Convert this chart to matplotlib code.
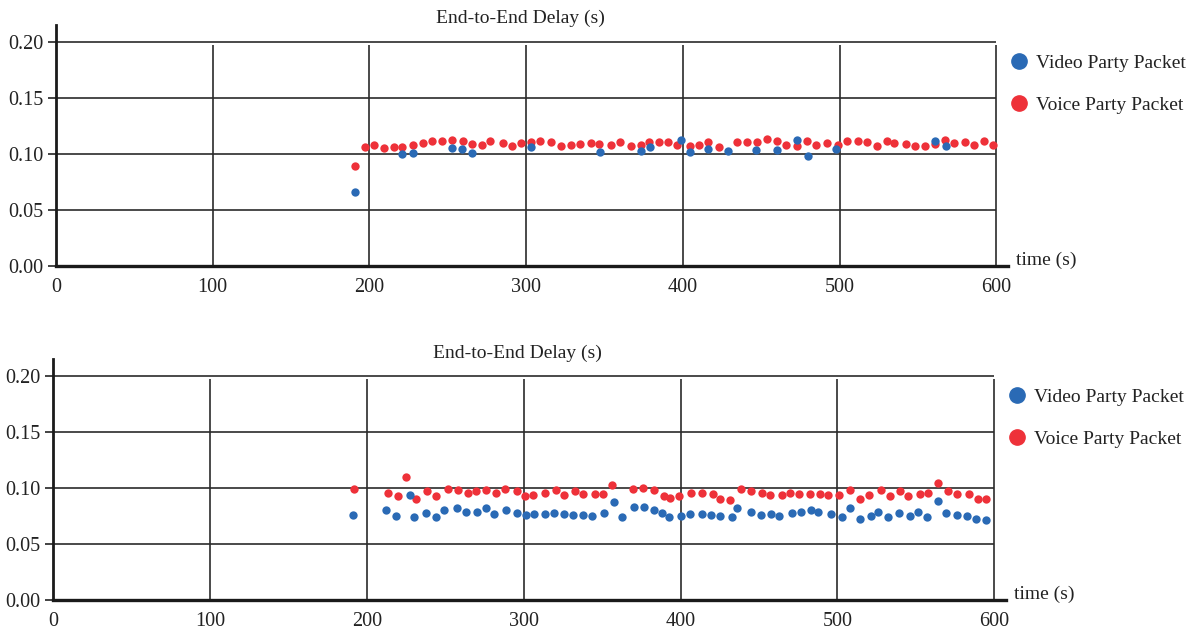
import matplotlib
matplotlib.use("Agg")
import matplotlib.pyplot as plt
from matplotlib.lines import Line2D

plt.rcParams["font.family"] = ["Liberation Serif", "DejaVu Serif"]

BLUE = "#2a6ab5"
RED = "#ee3139"
GRID = "#2b2b2b"

# top panel
top_video_t = [191, 221, 228, 253, 259, 265.5, 303, 347, 373, 379, 398.6,
               404.6, 416, 429, 447, 460, 473, 479.7, 498, 561, 568]
top_video_d = [0.066, 0.100, 0.101, 0.105, 0.104, 0.101, 0.1065, 0.102,
               0.103, 0.1065, 0.1125, 0.1015, 0.1045, 0.1027, 0.1033, 0.1033,
               0.1125, 0.098, 0.104, 0.1116, 0.1074]
top_voice_t = [191, 197, 203, 209.5, 215.5, 221, 228, 234, 240, 246,
               253, 259.5, 265.5, 272, 277, 285, 291, 297, 303, 309,
               316, 322, 328.5, 334.5, 341.5, 346.5, 354, 360, 367, 373,
               378.5, 384.5, 390.5, 396.5, 404.5, 410, 416, 423, 434.5, 441,
               447.5, 453.5, 460, 466, 473, 479, 485, 492, 499, 505,
               511.5, 517.5, 524, 530, 535, 542.5, 548, 554.5, 561, 567,
               573, 580, 586, 592, 598]
top_voice_d = [0.0896, 0.1065, 0.108, 0.105, 0.1065, 0.1065, 0.1077, 0.1095, 0.1116, 0.1116,
               0.1125, 0.1116, 0.1086, 0.108, 0.1116, 0.1095, 0.1074, 0.1095, 0.1107, 0.1116,
               0.1107, 0.1074, 0.1077, 0.1086, 0.1095, 0.1086, 0.1083, 0.1104, 0.1074, 0.1083,
               0.1104, 0.1104, 0.1104, 0.108, 0.1074, 0.1083, 0.1104, 0.1063, 0.1104, 0.1104,
               0.1104, 0.1137, 0.1113, 0.1083, 0.1074, 0.1116, 0.1083, 0.1095, 0.1083, 0.1116,
               0.1116, 0.111, 0.1074, 0.1116, 0.1095, 0.1092, 0.1074, 0.1074, 0.1089, 0.1125,
               0.1098, 0.111, 0.1083, 0.1116, 0.1083]

# bottom panel
bot_video_t = [191.3, 212.3, 218.3, 227.2, 230.2, 237.7, 244.2, 249.3, 257.4, 263.4,
               270.2, 276.1, 281.2, 288.7, 295.5, 301.5, 306.8, 313.3, 319.3, 325.9,
               331.2, 337.8, 343.8, 351.2, 357.8, 362.5, 370.6, 376.5, 382.9, 388.4,
               392.5, 400.4, 406.3, 413.8, 419.7, 425, 432.5, 435.9, 444.6, 451,
               457.5, 462.7, 471.2, 476.9, 483.3, 487.6, 495.7, 503.1, 508.2, 514.2,
               521.6, 526.1, 532, 539.3, 546, 551.2, 557.2, 564.1, 569.1, 576.5,
               582.5, 588.4, 594.6]
bot_video_d = [0.0759, 0.080, 0.0747, 0.0938, 0.0737, 0.078, 0.0737, 0.080, 0.0821, 0.0789,
               0.0789, 0.0821, 0.0771, 0.080, 0.078, 0.0759, 0.0768, 0.0768, 0.078, 0.0768,
               0.0759, 0.0759, 0.0747, 0.078, 0.0872, 0.0737, 0.0831, 0.0831, 0.080, 0.0777,
               0.0737, 0.0747, 0.0768, 0.0768, 0.0759, 0.075, 0.0737, 0.0818, 0.0789, 0.0759,
               0.0768, 0.0747, 0.078, 0.0789, 0.080, 0.0789, 0.0768, 0.0737, 0.0821, 0.0726,
               0.0747, 0.0789, 0.0737, 0.078, 0.0747, 0.0789, 0.0737, 0.0884, 0.078, 0.0759,
               0.0747, 0.0726, 0.0717]
bot_voice_t = [191.9, 213.6, 219.5, 224.9, 231.5, 238.3, 244.2, 251.4, 258.3, 264.2,
               269.3, 276.1, 282, 288, 295.5, 300.6, 305.9, 313.3, 320.8, 325.9,
               332.7, 337.8, 345.2, 350.3, 356.5, 369.9, 375.9, 382.9, 389.3, 393.5,
               398.8, 406.9, 413.8, 420.4, 425, 431.6, 438.3, 444.8, 451.6, 456.8,
               464.5, 469.6, 475.4, 482.2, 488.8, 494.2, 500.9, 508.2, 514.2, 520.1,
               527.6, 533.3, 539.9, 545.3, 552.7, 557.6, 564.3, 570.6, 576.5, 584.2,
               589.5, 594.6]
bot_voice_d = [0.0988, 0.0956, 0.0926, 0.1093, 0.0905, 0.0968, 0.0926, 0.0988, 0.0977, 0.0956,
               0.0968, 0.0977, 0.0956, 0.0988, 0.0968, 0.0926, 0.0935, 0.0956, 0.0977, 0.0935,
               0.0968, 0.0947, 0.0947, 0.0947, 0.103, 0.0988, 0.0997, 0.098, 0.0926, 0.0911,
               0.0926, 0.0959, 0.0959, 0.0947, 0.0905, 0.0893, 0.0988, 0.0968, 0.0956, 0.0935,
               0.0935, 0.0956, 0.0947, 0.0947, 0.0947, 0.0935, 0.0938, 0.098, 0.0905, 0.0938,
               0.098, 0.0926, 0.0968, 0.0926, 0.0947, 0.0956, 0.1048, 0.0968, 0.0947, 0.0947,
               0.0905, 0.0905]

x_ticks = [0, 100, 200, 300, 400, 500, 600]
y_ticks = [0.00, 0.05, 0.10, 0.15, 0.20]
labels = ["Video Party Packet", "Voice Party Packet"]
title = "End-to-End Delay (s)"

W, H = 1203, 633
fig = plt.figure(figsize=(W / 100, H / 100), dpi=100)


def panel(left, top, bottom, right, video_t, video_d, voice_t, voice_d):
    ax = fig.add_axes([left / W, 1 - bottom / H, (right - left) / W, (bottom - top) / H])
    ax.set_xlim(0, 607.5)
    ax.set_ylim(0, 0.215)

    ax.hlines(y_ticks[1:], 0, 600, color=GRID, lw=1.2, zorder=1)
    ax.vlines(x_ticks[1:], 0, 0.197, color=GRID, lw=1.2, zorder=1)

    ax.scatter(voice_t, voice_d, s=36, color=RED, linewidths=0, zorder=3)
    ax.scatter(video_t, video_d, s=36, color=BLUE, linewidths=0, zorder=4)

    for side in ["top", "right"]:
        ax.spines[side].set_visible(False)
    ax.spines["left"].set_linewidth(2)
    ax.spines["bottom"].set_linewidth(2.4)
    ax.spines["left"].set_color("#1a1a1a")
    ax.spines["bottom"].set_color("#1a1a1a")

    ax.set_xticks(x_ticks)
    ax.set_yticks(y_ticks)
    ax.set_yticklabels([f"{v:.2f}" for v in y_ticks])
    ax.tick_params(axis="x", length=0, pad=9, labelsize=14.5, colors="#222222")
    ax.tick_params(axis="y", length=6, width=1.2, pad=3, labelsize=14.5,
                   colors="#222222")

    # axis name at the end of the x axis
    ax.text(1.0 + 8 / (right - left), 0.025, "time (s)", transform=ax.transAxes,
            ha="left", va="center", fontsize=14, color="#222222")

    handles = [
        Line2D([], [], ls="", marker="o", ms=11, color=BLUE),
        Line2D([], [], ls="", marker="o", ms=11, color=RED),
    ]
    fig.legend(handles, labels, loc="upper left",
               bbox_to_anchor=((right - 1) / W, 1 - (top + 29) / H),
               frameon=False, fontsize=14, handletextpad=0.3,
               labelspacing=1.25, handlelength=1.2, borderpad=0,
               borderaxespad=0, labelcolor="#222222")
    return ax


panel(56, 25, 266, 1008, top_video_t, top_video_d, top_voice_t, top_voice_d)
fig.text(520 / W, 1 - 18 / H, title, ha="center", va="center", fontsize=14,
         color="#222222")

panel(53.3, 359, 600, 1006, bot_video_t, bot_video_d, bot_voice_t, bot_voice_d)
fig.text(517 / W, 1 - 353 / H, title, ha="center", va="center", fontsize=14,
         color="#222222")

fig.savefig("out.png", dpi=100)
